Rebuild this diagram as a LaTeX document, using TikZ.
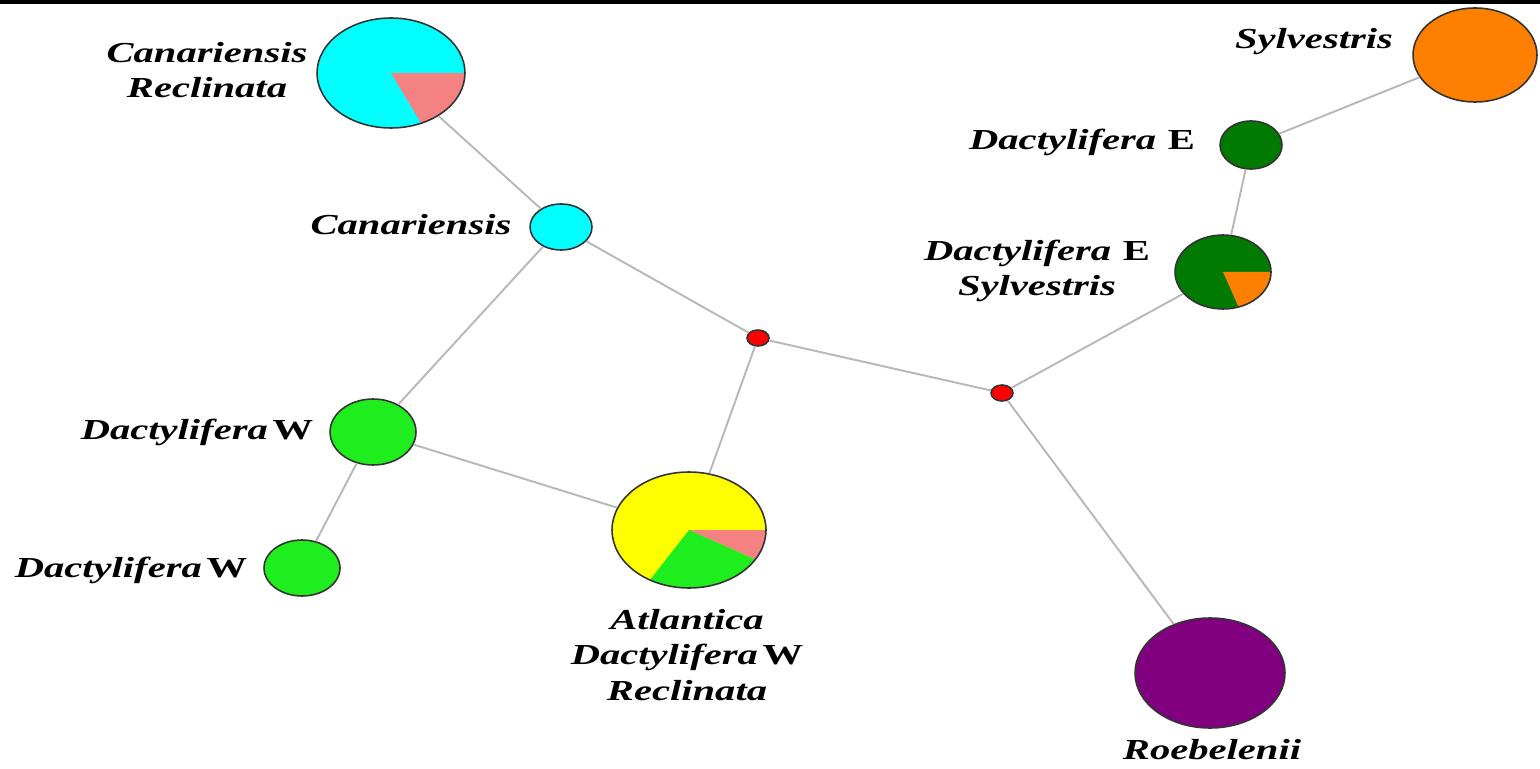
\documentclass[tikz,border=0pt]{standalone}
\usepackage{fontspec}
\setmainfont{Liberation Serif}
\newfontfamily\taxfont{Liberation Serif}[FakeStretch=1.4]
\definecolor{HapCyan}{HTML}{00FFFF}
\definecolor{HapPink}{HTML}{F58282}
\definecolor{HapLime}{HTML}{1EEE1E}
\definecolor{HapGreen}{HTML}{007A00}
\definecolor{HapOrange}{HTML}{FF8000}
\definecolor{HapYellow}{HTML}{FFFF00}
\definecolor{HapPurple}{HTML}{800080}
\definecolor{HapRed}{HTML}{FF0000}
\usetikzlibrary{shapes.geometric}

\newcommand\slice[3]{\fill[#1] (path picture bounding box.center) -- +(#2:300) -- +(#3:300) -- cycle;}
\newcommand\reg[1]{\textup{#1}}

\begin{document}
\begin{tikzpicture}[x=0.02cm, y=0.02cm,
    hap/.style={ellipse, draw=black!80, line width=0.9pt, inner sep=0pt},
    link/.style={draw=black!28, line width=1.1pt},
    taxon/.style={font=\taxfont\bfseries\itshape\fontsize{16.5}{20}\selectfont,
                  align=center, inner sep=0pt}]
  \useasboundingbox (0,0) rectangle (1540,768);
  \fill (0,764) rectangle (1540,768);

  % haplotypes
  \node[hap, fill=HapCyan, minimum width=2.96cm, minimum height=2.2cm,
        path picture={\slice{HapPink}{0}{-59}}] (cr) at (391,695) {};
  \node[hap, fill=HapCyan, minimum width=1.24cm, minimum height=0.92cm] (can) at (561,541) {};
  \node[hap, fill=HapRed, minimum width=0.44cm, minimum height=0.32cm] (mv1) at (758,430) {};
  \node[hap, fill=HapRed, minimum width=0.44cm, minimum height=0.32cm] (mv2) at (1002,375) {};
  \node[hap, fill=HapLime, minimum width=1.72cm, minimum height=1.32cm] (dwa) at (373,336) {};
  \node[hap, fill=HapLime, minimum width=1.52cm, minimum height=1.12cm] (dwb) at (302,200) {};
  \node[hap, fill=HapYellow, minimum width=3.08cm, minimum height=2.32cm,
        path picture={\slice{HapPink}{0}{-24}\slice{HapLime}{-24}{-128}}] (atl) at (689,238) {};
  \node[hap, fill=HapGreen, minimum width=1.92cm, minimum height=1.48cm,
        path picture={\slice{HapOrange}{0}{-66}}] (des) at (1223,496) {};
  \node[hap, fill=HapGreen, minimum width=1.24cm, minimum height=0.96cm] (de) at (1251,623) {};
  \node[hap, fill=HapOrange, minimum width=2.48cm, minimum height=1.88cm] (syl) at (1475,713) {};
  \node[hap, fill=HapPurple, minimum width=3.0cm, minimum height=2.2cm] (roe) at (1210,95) {};

  % links
  \draw[link] (cr) -- (can);
  \draw[link] (can) -- (mv1);
  \draw[link] (can) -- (dwa);
  \draw[link] (dwa) -- (dwb);
  \draw[link] (dwa) -- (atl);
  \draw[link] (mv1) -- (atl);
  \draw[link] (mv1) -- (mv2);
  \draw[link] (mv2) -- (des);
  \draw[link] (mv2) -- (roe);
  \draw[link] (des) -- (de);
  \draw[link] (de) -- (syl);

  % labels
  \node[taxon] (lcr) at (207,698) {Canariensis\\Reclinata};
  \node[taxon] (lcan) at (411,543) {Canariensis};
  \node[taxon] (ldwa) at (197,336) {Dactylifera\,\reg{W}};
  \node[taxon] (ldwb) at (131,198) {Dactylifera\,\reg{W}};
  \node[taxon] (latl) at (687,113) {Atlantica\\Dactylifera\,\reg{W}\\Reclinata};
  \node[taxon] (lroe) at (1212,18) {Roebelenii};
  \node[taxon] (lsyl) at (1314,726) {Sylvestris};
  \node[taxon] (lde) at (1082,626) {Dactylifera\hspace{0.4em}\reg{E}};
  \node[taxon] (ldes) at (1037,497) {Dactylifera\hspace{0.4em}\reg{E}\\Sylvestris};
\end{tikzpicture}
\end{document}
